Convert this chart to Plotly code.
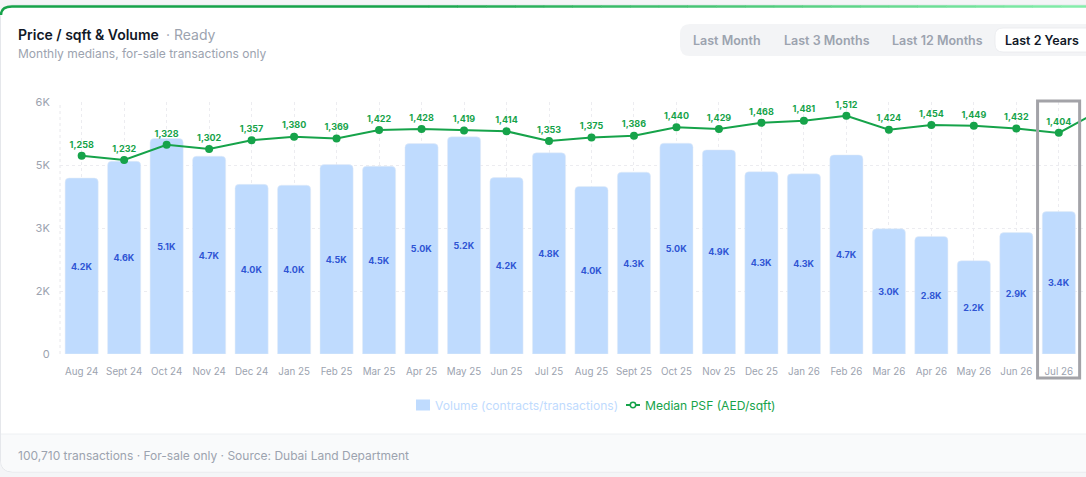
import plotly.graph_objects as go

# ── Data ──────────────────────────────────────────────────────────────────────
months = ["Aug 24", "Sept 24", "Oct 24", "Nov 24", "Dec 24", "Jan 25", "Feb 25",
          "Mar 25", "Apr 25", "May 25", "Jun 25", "Jul 25", "Aug 25", "Sept 25",
          "Oct 25", "Nov 25", "Dec 25", "Jan 26", "Feb 26", "Mar 26", "Apr 26",
          "May 26", "Jun 26", "Jul 26", "Aug 26"]
volume = [4190, 4590, 5130, 4710, 4040, 4020, 4510, 4470, 5010, 5170, 4200, 4790,
          3990, 4330, 5020, 4860, 4340, 4290, 4740, 2980, 2800, 2220, 2890, 3390, None]
psf = [1258, 1232, 1328, 1302, 1357, 1380, 1369, 1422, 1428, 1419, 1414, 1353,
       1375, 1386, 1440, 1429, 1468, 1481, 1512, 1424, 1454, 1449, 1432, 1404, 1551]
vol_ticks = [0, 1500, 3000, 4500, 6000]
vol_ticktext = ["0", "2K", "3K", "5K", "6K"]
highlight = "Jul 26"

FONT = "Inter"
GREEN = "#16a34a"
BAR = "#bfdbfe"
GREY = "#9ca3af"

W_FIG, H_FIG = 1086, 477
L, R, T, B = 60, 0, 102, 123
PW, PH = W_FIG - L - R, H_FIG - T - B


def px(x):
    return (x - L) / PW


def py(y):
    return (H_FIG - B - y) / PH


def rrect(x0, y0, x1, y1, r, top=True, bottom=True):
    # rounded rectangle path in paper coords, built from pixel corners
    pts = []
    if top:
        pts.append(f"M{px(x0)},{py(y0 + r)} Q{px(x0)},{py(y0)} {px(x0 + r)},{py(y0)}")
        pts.append(f"L{px(x1 - r)},{py(y0)} Q{px(x1)},{py(y0)} {px(x1)},{py(y0 + r)}")
    else:
        pts.append(f"M{px(x0)},{py(y0)} L{px(x1)},{py(y0)}")
    if bottom:
        pts.append(f"L{px(x1)},{py(y1 - r)} Q{px(x1)},{py(y1)} {px(x1 - r)},{py(y1)}")
        pts.append(f"L{px(x0 + r)},{py(y1)} Q{px(x0)},{py(y1)} {px(x0)},{py(y1 - r)} Z")
    else:
        pts.append(f"L{px(x1)},{py(y1)} L{px(x0)},{py(y1)} Z")
    return " ".join(pts)


hi = months.index(highlight)

fig = go.Figure()

fig.add_trace(go.Bar(
    x=months, y=volume, name="Volume (contracts/transactions)",
    marker=dict(color=BAR, cornerradius=4),
    text=[f"{v / 1000:.1f}K" if v else "" for v in volume],
    textposition="inside", insidetextanchor="middle", textangle=0,
    textfont=dict(family=FONT, size=9, color="#2f55d4", weight=700),
    hoverinfo="skip",
))

# the month after the highlighted one runs off the right edge: no label for it
fig.add_trace(go.Scatter(
    x=months, y=psf, yaxis="y2", name="Median PSF (AED/sqft)",
    mode="lines+markers+text",
    line=dict(color=GREEN, width=2),
    marker=dict(color=GREEN, size=8),
    text=[f"{v:,}" for v in psf[:hi + 1]] + [""] * (len(psf) - hi - 1),
    textposition="top center",
    textfont=dict(family=FONT, size=9, color=GREEN, weight=700),
    cliponaxis=False, hoverinfo="skip",
))

shapes = []
# card, footer
shapes.append(dict(type="path", xref="paper", yref="paper", layer="below",
                   path=rrect(0.5, 5, 1110, 472, 12),
                   fillcolor="white", line=dict(color="#e5e7eb", width=1)))
shapes.append(dict(type="path", xref="paper", yref="paper", layer="below",
                   path=rrect(1, 434, 1110, 471.5, 12, top=False),
                   fillcolor="#f9fafb", line=dict(width=0)))
shapes.append(dict(type="line", xref="paper", yref="paper", layer="below",
                   x0=px(1), x1=px(1110), y0=py(434), y1=py(434),
                   line=dict(color="#eef0f3", width=1)))
# green accent on the card top, fading to the right
shapes.append(dict(type="path", xref="paper", yref="paper",
                   path=f"M{px(1)},{py(15)} Q{px(1)},{py(6.5)} {px(12)},{py(6.5)} L{px(400)},{py(6.5)}",
                   line=dict(color=GREEN, width=2.5)))
c0, c1 = (22, 163, 74), (134, 239, 172)
n_seg = 24
for i in range(n_seg):
    t = (i + 0.5) / n_seg
    col = "rgb({},{},{})".format(*[round(a + (b - a) * t) for a, b in zip(c0, c1)])
    xa = 400 + (1090 - 400) * i / n_seg
    xb = 400 + (1090 - 400) * (i + 1) / n_seg
    shapes.append(dict(type="line", xref="paper", yref="paper",
                       x0=px(xa), x1=px(xb + 0.5), y0=py(6.5), y1=py(6.5),
                       line=dict(color=col, width=2.5)))
# segmented control
shapes.append(dict(type="path", xref="paper", yref="paper", layer="below",
                   path=rrect(680, 24, 1110, 56, 10),
                   fillcolor="#f3f4f6", line=dict(width=0)))
shapes.append(dict(type="path", xref="paper", yref="paper", layer="below",
                   path=rrect(995, 28, 1110, 52, 8),
                   fillcolor="white", line=dict(color="#e9eaee", width=0.8)))
# left grid edge
shapes.append(dict(type="line", xref="paper", yref="paper", layer="below",
                   x0=0, x1=0, y0=0, y1=1,
                   line=dict(color="#e8e8ec", width=1, dash="3px,3px")))
# highlighted month
shapes.append(dict(type="rect", xref="x", yref="paper",
                   x0=hi - 0.5, x1=hi + 0.49, y0=py(378), y1=py(101),
                   fillcolor="rgba(0,0,0,0)", line=dict(color="#a3a3a8", width=3)))
# legend keys
shapes.append(dict(type="rect", xref="paper", yref="paper",
                   x0=px(416), x1=px(430), y0=py(410.5), y1=py(399.5),
                   fillcolor=BAR, line=dict(width=0)))
shapes.append(dict(type="line", xref="paper", yref="paper",
                   x0=px(626), x1=px(640), y0=py(405), y1=py(405),
                   line=dict(color=GREEN, width=2)))
shapes.append(dict(type="circle", xref="paper", yref="paper",
                   x0=px(630.3), x1=px(635.7), y0=py(407.7), y1=py(402.3),
                   fillcolor="white", line=dict(color=GREEN, width=1.5)))

annotations = [
    dict(x=px(16), y=py(34), xanchor="left", yanchor="middle",
         text="Price / sqft & Volume",
         font=dict(family=FONT, size=14, color="#111827", weight=600)),
    dict(x=px(164), y=py(34), xanchor="left", yanchor="middle",
         text="· Ready", font=dict(family=FONT, size=14, color=GREY)),
    dict(x=px(16), y=py(53), xanchor="left", yanchor="middle",
         text="Monthly medians, for-sale transactions only",
         font=dict(family=FONT, size=12, color=GREY)),
    dict(x=px(16), y=py(455), xanchor="left", yanchor="middle",
         text="100,710 transactions · For-sale only · Source: Dubai Land Department",
         font=dict(family=FONT, size=12, color=GREY)),
    dict(x=px(433), y=py(405), xanchor="left", yanchor="middle",
         text="Volume (contracts/transactions)",
         font=dict(family=FONT, size=12.1, color=BAR)),
    dict(x=px(643), y=py(405), xanchor="left", yanchor="middle",
         text="Median PSF (AED/sqft)",
         font=dict(family=FONT, size=12.1, color=GREEN)),
]
for label, cx, active in [("Last Month", 727, False), ("Last 3 Months", 826.5, False),
                          ("Last 12 Months", 937, False), ("Last 2 Years", 1042, True)]:
    annotations.append(dict(x=px(cx), y=py(40), xanchor="center", yanchor="middle",
                            text=label,
                            font=dict(family=FONT, size=12.5, weight=600,
                                      color="#111827" if active else GREY)))
for a in annotations:
    a.update(xref="paper", yref="paper", showarrow=False)

fig.update_layout(
    width=W_FIG, height=H_FIG,
    margin=dict(l=L, r=R, t=T, b=B),
    paper_bgcolor="#f4f5f7", plot_bgcolor="white",
    font=dict(family=FONT, color=GREY),
    bargap=0.22,
    showlegend=False,
    xaxis=dict(type="category", categoryorder="array", categoryarray=months,
               range=[-0.51, 23.64], showgrid=True, gridcolor="#ececf0",
               griddash="3px,3px", tickfont=dict(size=9.8, color=GREY),
               ticks="outside", ticklen=8, tickcolor="rgba(0,0,0,0)",
               showline=False, zeroline=False, fixedrange=True),
    yaxis=dict(range=[0, 6000], tickvals=vol_ticks, ticktext=vol_ticktext,
               showgrid=True, gridcolor="#ececf0", griddash="3px,3px",
               tickfont=dict(size=11, color=GREY), ticks="outside", ticklen=7,
               tickcolor="rgba(0,0,0,0)", zeroline=False, showline=False,
               fixedrange=True),
    yaxis2=dict(range=[0, 1600], overlaying="y", side="right", visible=False,
                fixedrange=True),
    shapes=shapes,
    annotations=annotations,
)

fig.write_html("out.html", config={"displayModeBar": False},
               post_script="document.body.style.margin='0px';")
